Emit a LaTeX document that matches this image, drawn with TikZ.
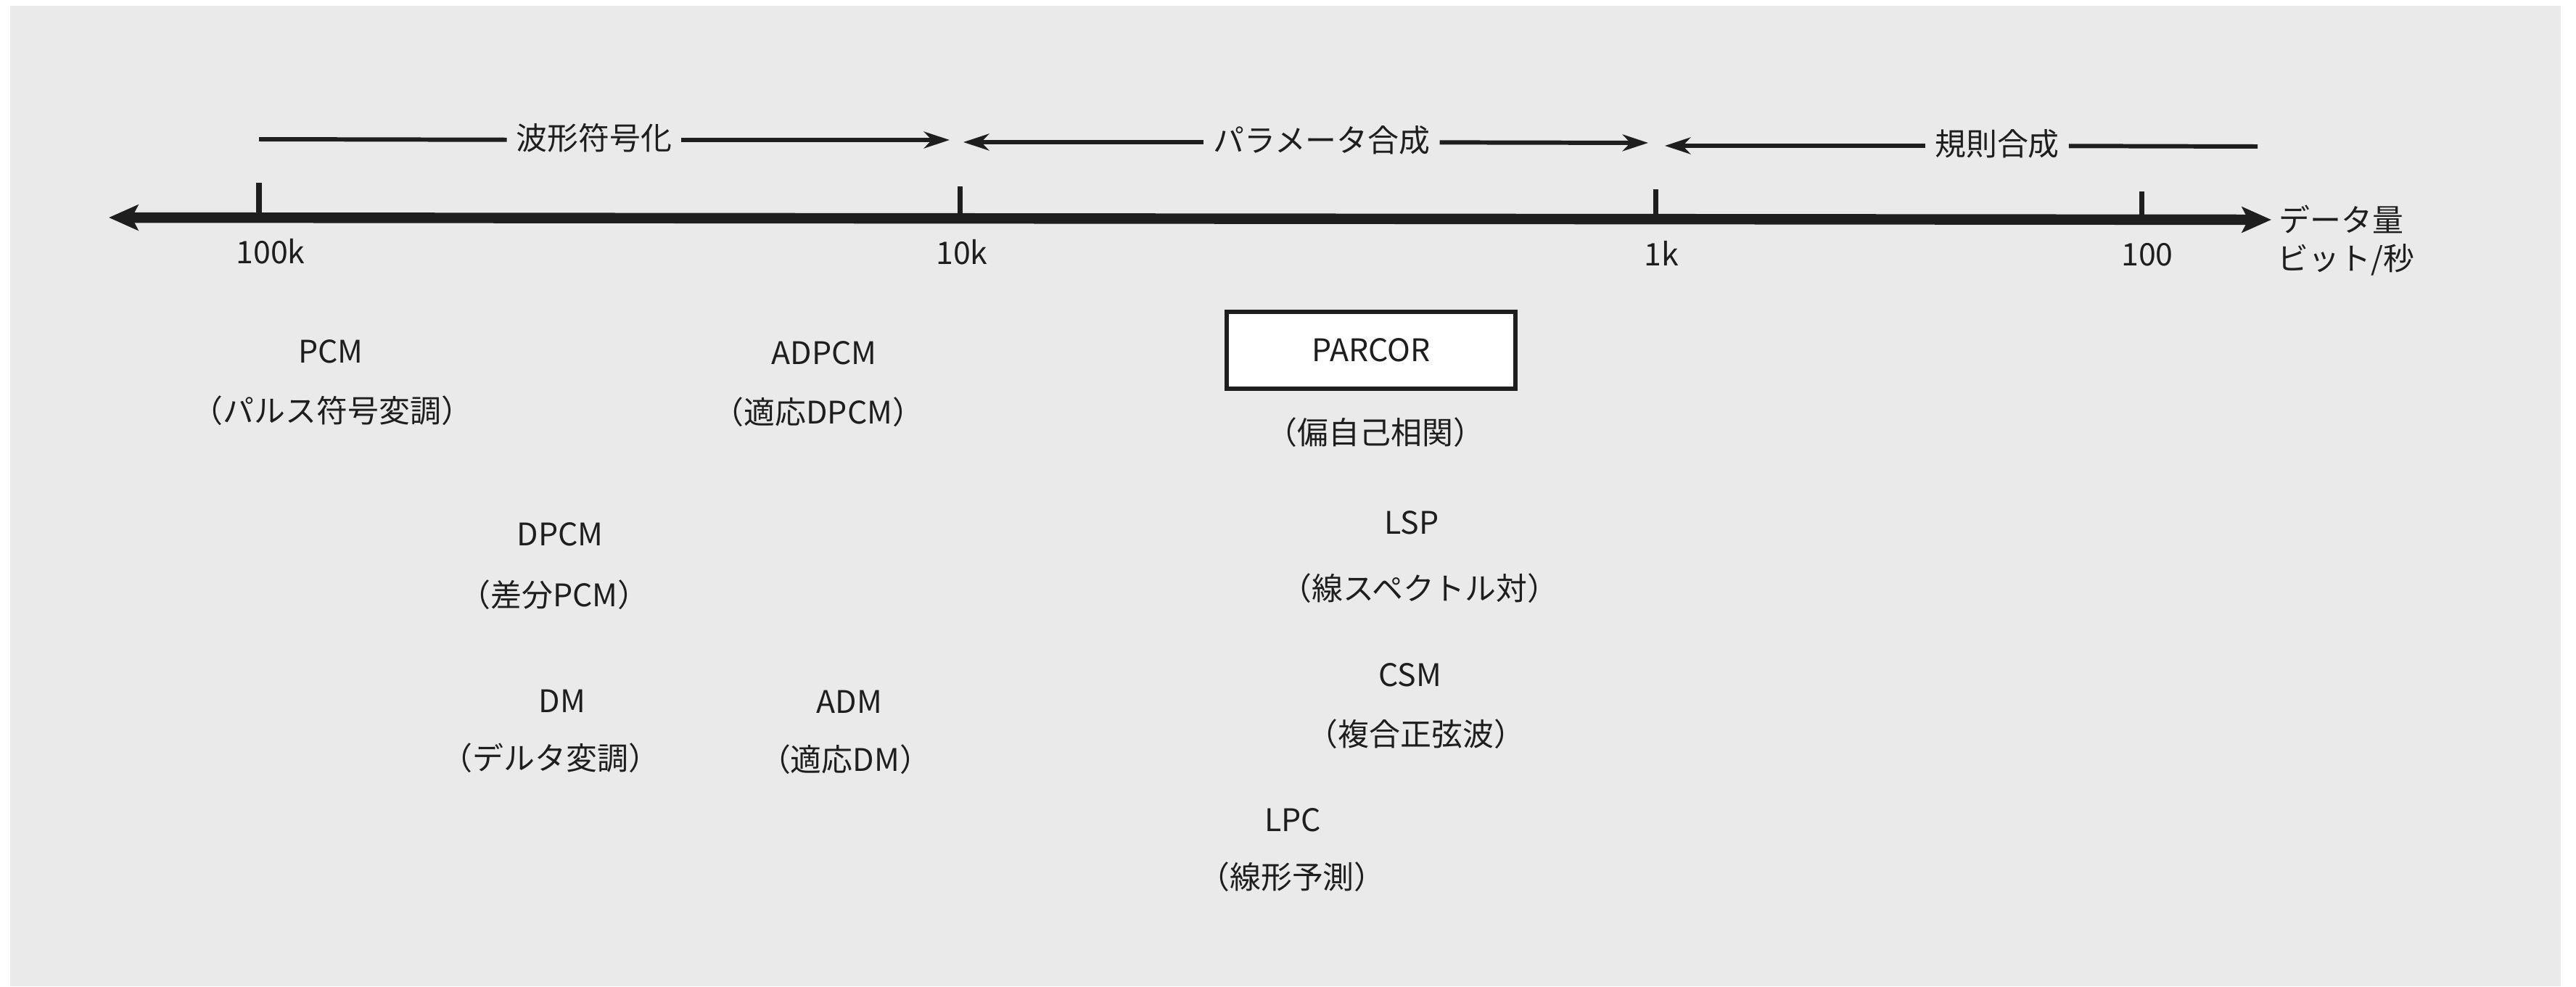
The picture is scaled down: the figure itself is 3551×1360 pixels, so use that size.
\documentclass[tikz,border=0pt]{standalone}
\usepackage{fontspec}
\setmainfont{Noto Sans CJK JP}
\usetikzlibrary{arrows.meta}
\definecolor{bgc}{HTML}{EAEAEA}
\definecolor{ink}{HTML}{1E1E1E}
\tikzset{
  x=0.01cm, y=-0.01cm,
  lbl/.style={anchor=base, inner sep=0pt, text=ink, font=\fontsize{12.2pt}{14pt}\selectfont},
  lblw/.style={lbl, anchor=base west},
  rangetxt/.style={inner xsep=3.5pt, inner ysep=0pt, text height=0.88em, text depth=0.12em,
     text=ink, font=\fontsize{12.2pt}{14pt}\selectfont},
  axisline/.style={draw=ink, line width=4.1pt, {Stealth[length=11.5pt,width=10pt,inset=2.5pt]}-{Stealth[length=11.5pt,width=10pt,inset=2.5pt]}},
  tickline/.style={draw=ink, line width=2pt},
  rng/.style={draw=ink, line width=1.7pt},
  boxed/.style={draw=ink, fill=white, line width=1.7pt, minimum width=113.2pt, minimum height=30.4pt,
     inner sep=0pt, text=ink, font=\fontsize{12.2pt}{14pt}\selectfont},
}
\begin{document}
\begin{tikzpicture}
\useasboundingbox (0,0) rectangle (3551,1360);
\fill[bgc] (14,8) rectangle (3530,1360);

% axis
\coordinate (axL) at (150,300);
\coordinate (axR) at (3131,303);
\draw[axisline] (axL) -- (axR);

% ticks
\coordinate (k100t) at (357,252); \coordinate (k100b) at (357,300);
\coordinate (k10t)  at (1323,257); \coordinate (k10b) at (1323,301);
\coordinate (k1t)   at (2282,261); \coordinate (k1b)  at (2282,302);
\coordinate (h100t) at (2952,264); \coordinate (h100b) at (2952,303);
\draw[tickline] (k100t) -- (k100b);
\draw[tickline] (k10t) -- (k10b);
\draw[tickline] (k1t) -- (k1b);
\draw[tickline] (h100t) -- (h100b);

% tick labels
\node[lbl] (l100k) at (373,363) {100k};
\node[lbl] (l10k)  at (1326,364) {10k};
\node[lbl] (l1k)   at (2290,366) {1k};
\node[lbl] (l100)  at (2960,366) {100};
\node[lblw] (dq)   at (3141,319) {データ量};
\node[lblw] (bps)  at (3139,372) {ビット/秒};

% ranges
\coordinate (r1a) at (357,192);
\coordinate (r1b) at (1309,193);
\node[rangetxt] (t1) at (819,193) {波形符号化};
\draw[rng] (r1a) -- (t1);
\draw[rng,-{Stealth[length=10pt,width=6.5pt,inset=3pt]}] (t1) -- (r1b);

\coordinate (r2a) at (1328,196);
\coordinate (r2b) at (2272,197);
\node[rangetxt] (t2) at (1822,196) {パラメータ合成};
\draw[rng,{Stealth[length=10pt,width=6.5pt,inset=3pt]}-] (r2a) -- (t2);
\draw[rng,-{Stealth[length=10pt,width=6.5pt,inset=3pt]}] (t2) -- (r2b);

\coordinate (r3a) at (2295,201);
\coordinate (r3b) at (3112,202);
\node[rangetxt] (t3) at (2753,201) {規則合成};
\draw[rng,{Stealth[length=10pt,width=6.5pt,inset=3pt]}-] (r3a) -- (t3);
\draw[rng] (t3) -- (r3b);

% methods
\node[lbl] (pcm)   at (456,500) {PCM};
\node[lbl] (pcmj)  at (458,582) {（パルス符号変調）};
\node[lbl] (adpcm) at (1136,502) {ADPCM};
\node[lbl] (adpcmj) at (1128,584) {（適応DPCM）};

\node[boxed] (parcor) at (1890,483) {PARCOR};
\node[lbl] (parcorj) at (1896,612) {（偏自己相関）};

\node[lbl] (dpcm)  at (772,752) {DPCM};
\node[lbl] (dpcmj) at (764,836) {（差分PCM）};

\node[lbl] (lsp)   at (1946,736) {LSP};
\node[lbl] (lspj)  at (1957,827) {（線スペクトル対）};

\node[lbl] (dm)    at (775,982) {DM};
\node[lbl] (dmj)   at (759,1061) {（デルタ変調）};
\node[lbl] (adm)   at (1171,983) {ADM};
\node[lbl] (admj)  at (1165,1063) {（適応DM）};

\node[lbl] (csm)   at (1944,946) {CSM};
\node[lbl] (csmj)  at (1952,1028) {（複合正弦波）};

\node[lbl] (lpc)   at (1782,1146) {LPC};
\node[lbl] (lpcj)  at (1781,1225) {（線形予測）};
\end{tikzpicture}
\end{document}
